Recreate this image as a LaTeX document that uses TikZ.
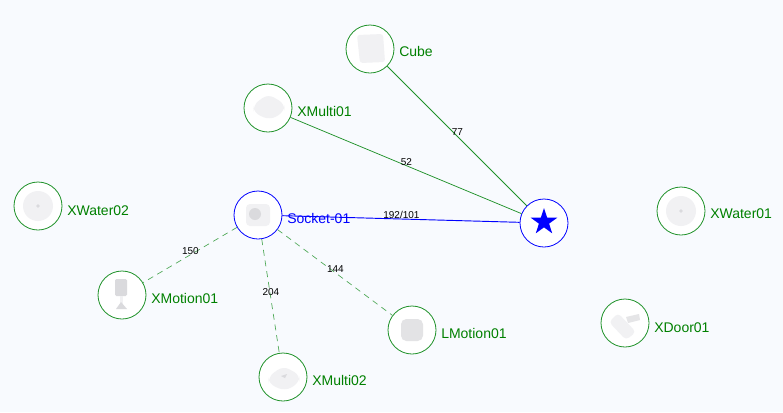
\documentclass[tikz,border=0pt]{standalone}
\usepackage{fontspec}
\setmainfont{Liberation Sans}
\usetikzlibrary{shapes.geometric}
\definecolor{pagebg}{HTML}{F8FAFE}
\definecolor{devgreen}{HTML}{1E9128}
\definecolor{devtext}{HTML}{008000}
\definecolor{iconlight}{HTML}{F1F1F3}
\definecolor{icondark}{HTML}{DADADD}
\tikzset{
  device/.style={circle, draw=devgreen, fill=white, line width=0.6pt, minimum size=36pt, inner sep=0pt},
  hub/.style={device, draw=blue},
  devlabel/.style={anchor=west, inner sep=0pt, text=devtext, font=\fontsize{10.5pt}{12pt}\selectfont},
  hublabel/.style={devlabel, text=blue},
  direct/.style={draw=devgreen, line width=0.55pt},
  routed/.style={draw=devgreen!80, line width=0.5pt, dashed, dash pattern=on 4.5pt off 3.6pt},
  linked/.style={draw=blue, line width=0.7pt},
  weight/.style={midway, yshift=2.7pt, xshift=0.3pt, inner sep=0pt, text=black, font=\fontsize{7.5pt}{9pt}\selectfont}
}
\begin{document}
\begin{tikzpicture}[x=0.75pt,y=-0.75pt]
\fill[pagebg] (0,0) rectangle (783,412);
\useasboundingbox (0,0) rectangle (783,412);
\node[device] (cube) at (370,49) {};
\node[device] (xmultia) at (268,108) {};
\node[device] (xwaterb) at (38,206) {};
\node[hub] (socket) at (258,215) {};
\node[device] (xmotion) at (122,295) {};
\node[device] (xmultib) at (283,377) {};
\node[device] (lmotion) at (412,330) {};
\node[hub] (gateway) at (544,223) {};
\node[device] (xwatera) at (681,211) {};
\node[device] (xdoor) at (625,323) {};
% links
\draw[direct] (cube) -- node[weight] {77} (gateway);
\draw[direct] (xmultia) -- node[weight] {52} (gateway);
\draw[linked] (socket) -- node[weight] {192/101} (gateway);
\draw[routed] (socket) -- node[weight] {150} (xmotion);
\draw[routed] (socket) -- node[weight] {204} (xmultib);
\draw[routed] (socket) -- node[weight] {144} (lmotion);
% icons
\fill[iconlight, rounded corners=2pt] (357,35) -- (383,34) -- (385,62) -- (360,63) -- cycle;
\fill[iconlight, rounded corners=5pt] (253,105) -- (268,94) -- (285,104) -- (284,112) -- (270,120) -- (254,113) -- cycle;
\fill[iconlight] (38,206) circle (15);
\fill[icondark] (38,206) circle (1.8);
\fill[iconlight, rounded corners=3pt] (246,204) rectangle (270,226);
\fill[icondark] (255,214) circle (6);
\fill[icondark, rounded corners=1pt] (115,279) rectangle (127,296);
\fill[iconlight] (120,296) rectangle (123,304);
\fill[icondark] (116,309) -- (121,302) -- (127,309) -- cycle;
\fill[iconlight, rounded corners=5pt] (268,377) -- (283,366) -- (300,375) -- (299,383) -- (285,391) -- (269,384) -- cycle;
\fill[icondark] (281,376) -- (287,374) -- (285,378) -- cycle;
\fill[icondark!75, rounded corners=4pt] (401,319) rectangle (423,341);
\fill[iconlight] (681,211) circle (15);
\fill[icondark] (681,211) circle (1.8);
\fill[iconlight, rounded corners=3pt] (609,322) -- (618,313) -- (636,332) -- (626,340) -- cycle;
\fill[icondark!70] (626,317) -- (639,314) -- (640,320) -- (628,323) -- cycle;
\node[star, star points=5, star point ratio=2.618, fill=blue, inner sep=0pt, minimum size=21pt] (starmark) at (544,222) {};
% names
\node[devlabel] (cubename) at (399,51) {Cube};
\node[devlabel] (xmultianame) at (297,111) {XMulti01};
\node[devlabel] (xwaterbname) at (67,211) {XWater02};
\node[hublabel] (socketname) at (287,218) {Socket-01};
\node[devlabel] (xmotionname) at (151,298) {XMotion01};
\node[devlabel] (xmultibname) at (312,380) {XMulti02};
\node[devlabel] (lmotionname) at (441,333) {LMotion01};
\node[devlabel] (xwateraname) at (710,214) {XWater01};
\node[devlabel] (xdoorname) at (654,328) {XDoor01};
\end{tikzpicture}
\end{document}
